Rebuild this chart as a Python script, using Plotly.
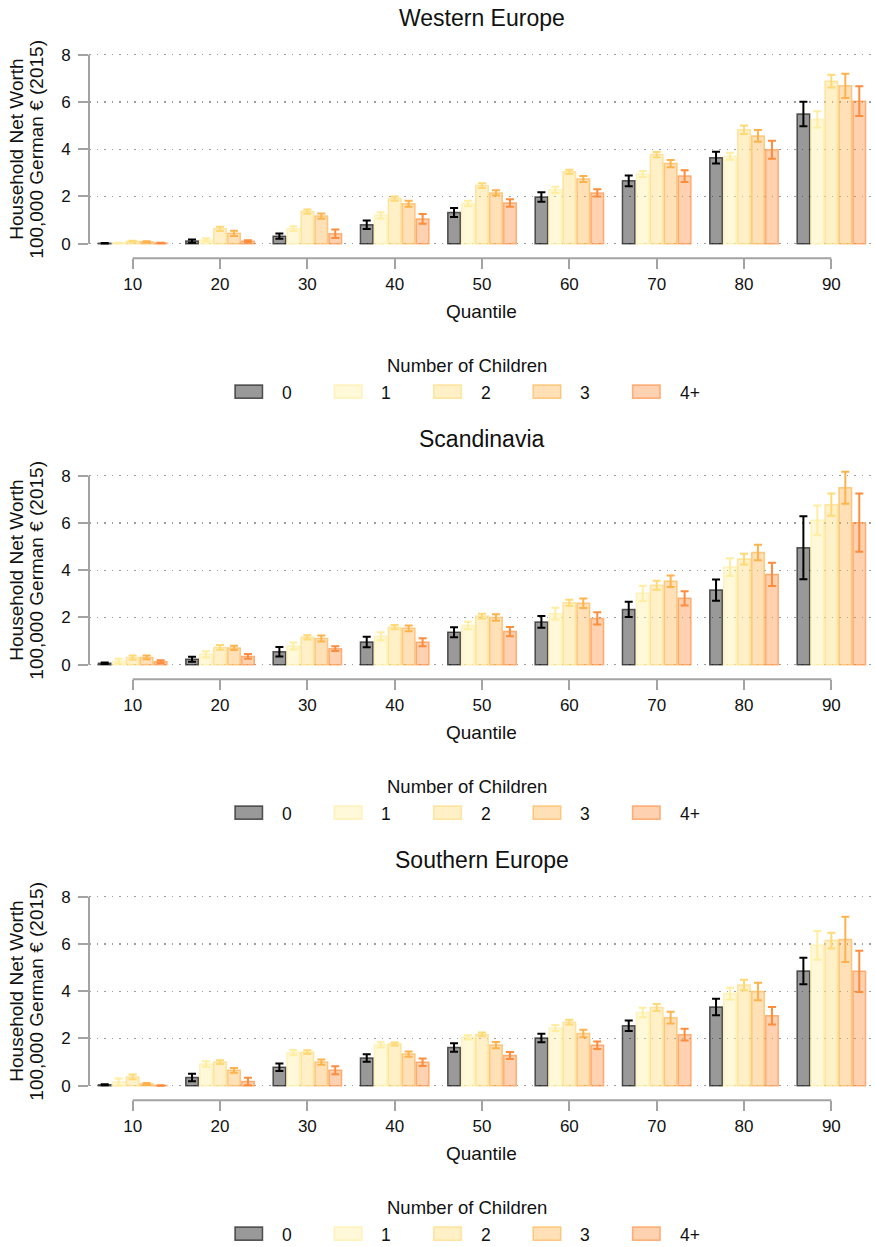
import plotly.graph_objects as go

# ---------------- data ----------------
quantiles = [10, 20, 30, 40, 50, 60, 70, 80, 90]
child_groups = ["0", "1", "2", "3", "4+"]
region_titles = ["Western Europe", "Scandinavia", "Southern Europe"]
y_ticks = [0, 2, 4, 6, 8]

# Western Europe: mean and half-width of error bar per number of children
we_mean_0 = [0.02, 0.11, 0.32, 0.80, 1.32, 1.98, 2.66, 3.64, 5.49]
we_mean_1 = [0.03, 0.16, 0.64, 1.20, 1.70, 2.28, 2.95, 3.70, 5.26]
we_mean_2 = [0.10, 0.63, 1.36, 1.91, 2.46, 3.04, 3.77, 4.82, 6.88]
we_mean_3 = [0.08, 0.44, 1.17, 1.69, 2.15, 2.74, 3.39, 4.56, 6.68]
we_mean_4 = [0.03, 0.10, 0.42, 1.05, 1.72, 2.15, 2.86, 3.98, 6.03]
we_err_0 = [0.01, 0.07, 0.11, 0.18, 0.19, 0.20, 0.23, 0.25, 0.52]
we_err_1 = [0.01, 0.07, 0.10, 0.13, 0.12, 0.13, 0.13, 0.15, 0.34]
we_err_2 = [0.02, 0.09, 0.09, 0.09, 0.10, 0.09, 0.11, 0.18, 0.27]
we_err_3 = [0.02, 0.11, 0.11, 0.13, 0.11, 0.13, 0.15, 0.25, 0.51]
we_err_4 = [0.01, 0.05, 0.18, 0.21, 0.16, 0.15, 0.25, 0.38, 0.63]

# Scandinavia
sc_mean_0 = [0.06, 0.23, 0.55, 0.96, 1.37, 1.81, 2.34, 3.16, 4.95]
sc_mean_1 = [0.15, 0.44, 0.79, 1.20, 1.66, 2.16, 3.02, 4.13, 6.11]
sc_mean_2 = [0.30, 0.73, 1.16, 1.59, 2.06, 2.62, 3.36, 4.47, 6.77]
sc_mean_3 = [0.31, 0.71, 1.11, 1.54, 2.00, 2.60, 3.53, 4.75, 7.49]
sc_mean_4 = [0.13, 0.35, 0.68, 0.95, 1.40, 1.96, 2.81, 3.82, 6.01]
sc_err_0 = [0.03, 0.11, 0.20, 0.22, 0.21, 0.25, 0.32, 0.45, 1.33]
sc_err_1 = [0.10, 0.13, 0.15, 0.17, 0.16, 0.25, 0.32, 0.38, 0.63]
sc_err_2 = [0.09, 0.10, 0.09, 0.09, 0.10, 0.13, 0.19, 0.23, 0.47]
sc_err_3 = [0.08, 0.09, 0.13, 0.12, 0.14, 0.20, 0.24, 0.33, 0.68]
sc_err_4 = [0.06, 0.10, 0.10, 0.17, 0.20, 0.26, 0.30, 0.49, 1.23]

# Southern Europe
so_mean_0 = [0.04, 0.35, 0.78, 1.17, 1.62, 2.02, 2.54, 3.33, 4.85]
so_mean_1 = [0.16, 0.92, 1.40, 1.73, 2.05, 2.44, 3.10, 3.90, 5.94]
so_mean_2 = [0.37, 1.00, 1.42, 1.76, 2.17, 2.69, 3.31, 4.26, 6.14]
so_mean_3 = [0.07, 0.65, 1.00, 1.34, 1.72, 2.21, 2.88, 3.99, 6.19]
so_mean_4 = [0.01, 0.18, 0.65, 0.99, 1.28, 1.71, 2.16, 2.96, 4.84]
so_err_0 = [0.02, 0.16, 0.16, 0.16, 0.18, 0.18, 0.22, 0.35, 0.56]
so_err_1 = [0.15, 0.12, 0.11, 0.11, 0.09, 0.13, 0.20, 0.25, 0.61]
so_err_2 = [0.10, 0.08, 0.08, 0.07, 0.08, 0.10, 0.15, 0.22, 0.33]
so_err_3 = [0.04, 0.10, 0.11, 0.11, 0.13, 0.16, 0.25, 0.37, 0.96]
so_err_4 = [0.01, 0.16, 0.17, 0.16, 0.15, 0.16, 0.25, 0.37, 0.87]

region_means = [
    [we_mean_0, we_mean_1, we_mean_2, we_mean_3, we_mean_4],
    [sc_mean_0, sc_mean_1, sc_mean_2, sc_mean_3, sc_mean_4],
    [so_mean_0, so_mean_1, so_mean_2, so_mean_3, so_mean_4],
]
region_errs = [
    [we_err_0, we_err_1, we_err_2, we_err_3, we_err_4],
    [sc_err_0, sc_err_1, sc_err_2, sc_err_3, sc_err_4],
    [so_err_0, so_err_1, so_err_2, so_err_3, so_err_4],
]

# ---------------- style ----------------
W, H = 875, 1247
FONT = "Liberation Sans, Arial, Helvetica, sans-serif"
TXT = "#111111"
AXC = "#a3a3a3"
base_rgb = [(0, 0, 0), (255, 237, 160), (254, 217, 118), (254, 178, 76), (253, 141, 60)]


def rgba(c, a):
    return "rgba(%d,%d,%d,%.2f)" % (c[0], c[1], c[2], a)


fills = [rgba(c, 0.4) for c in base_rgb]
edges = [rgba(base_rgb[0], 0.62)] + [rgba(c, 0.65) for c in base_rgb[1:]]
errc = [rgba(c, 1.0) for c in base_rgb]

PLOT_L, PLOT_R = 89, 875
PITCH = 421
ZERO_PX = 243.7
PX_PER_UNIT = 23.63
Y_MIN, Y_MAX = -0.62, 8.4


def px(v):
    return v / W


def py(v):
    return 1 - v / H


fig = go.Figure()
layout = dict(
    width=W, height=H,
    margin=dict(l=0, r=0, t=0, b=0),
    paper_bgcolor="white", plot_bgcolor="white",
    barmode="group", bargap=0.2, bargroupgap=0.1,
    showlegend=False, hovermode=False,
    font=dict(family=FONT, color=TXT, size=17),
)
shapes = []
annotations = []

for k in range(3):
    n = "" if k == 0 else str(k + 1)
    off = PITCH * k
    zero = ZERO_PX + off
    bottom = zero - Y_MIN * PX_PER_UNIT
    top = zero - Y_MAX * PX_PER_UNIT
    xa, ya = "x" + n, "y" + n

    for j, g in enumerate(child_groups):
        fig.add_trace(go.Bar(
            x=quantiles, y=region_means[k][j], name=g,
            xaxis=xa, yaxis=ya, offsetgroup=g,
            marker=dict(color=fills[j], line=dict(color=edges[j], width=1.5)),
            error_y=dict(type="data", array=region_errs[k][j], color=errc[j],
                         thickness=2, width=4),
            showlegend=False,
        ))

    layout["xaxis" + n] = dict(
        domain=[px(PLOT_L), px(PLOT_R)], range=[5, 95], anchor=ya,
        tickvals=quantiles, ticktext=[str(q) for q in quantiles],
        ticks="outside", ticklen=10, tickwidth=2, tickcolor=AXC,
        showline=False, showgrid=False, zeroline=False, fixedrange=True,
        tickfont=dict(size=17, color=TXT),
    )
    layout["yaxis" + n] = dict(
        domain=[py(bottom), py(top)], range=[Y_MIN, Y_MAX], anchor=xa,
        tickvals=y_ticks, ticktext=[str(t) for t in y_ticks],
        ticks="outside", ticklen=10, tickwidth=2, tickcolor=AXC,
        showline=False, showgrid=True, gridcolor="#9c9c9c", gridwidth=1.2,
        griddash="1.5px,6px", zeroline=False, fixedrange=True,
        tickfont=dict(size=17, color=TXT), ticklabelstandoff=4,
    )

    # axis lines (R style: span first to last tick)
    shapes.append(dict(type="line", xref=xa + " domain", yref=ya,
                       x0=0, x1=0, y0=y_ticks[0], y1=y_ticks[-1],
                       line=dict(color=AXC, width=2), layer="above"))
    shapes.append(dict(type="line", xref=xa, yref=ya + " domain",
                       x0=quantiles[0], x1=quantiles[-1], y0=0, y1=0,
                       line=dict(color=AXC, width=2), layer="above"))

    # title
    annotations.append(dict(text=region_titles[k], x=px((PLOT_L + PLOT_R) / 2),
                            y=py(17.7 + off), xref="paper", yref="paper",
                            xanchor="center", yanchor="middle", showarrow=False,
                            font=dict(size=23, color=TXT)))
    # y title (two lines)
    annotations.append(dict(text="Household Net Worth", x=px(16.5), y=4,
                            xref="paper", yref=ya, xanchor="center", yanchor="middle",
                            textangle=-90, showarrow=False, font=dict(size=19, color=TXT)))
    annotations.append(dict(text="100,000 German € (2015)", x=px(36.5), y=4,
                            xref="paper", yref=ya, xanchor="center", yanchor="middle",
                            textangle=-90, showarrow=False, font=dict(size=19, color=TXT)))
    # x title
    annotations.append(dict(text="Quantile", x=px((PLOT_L + PLOT_R) / 2), y=py(311 + off),
                            xref="paper", yref="paper", xanchor="center", yanchor="middle",
                            showarrow=False, font=dict(size=19, color=TXT)))
    # legend (R style)
    annotations.append(dict(text="Number of Children", x=px(467.3), y=py(365 + off),
                            xref="paper", yref="paper", xanchor="center", yanchor="middle",
                            showarrow=False, font=dict(size=18.5, color=TXT)))
    for j, g in enumerate(child_groups):
        x0 = 235 + 99.4 * j
        shapes.append(dict(type="rect", xref="paper", yref="paper",
                           x0=px(x0), x1=px(x0 + 27.5),
                           y0=py(385 + off), y1=py(398.3 + off),
                           fillcolor=fills[j], line=dict(color=edges[j], width=1.5)))
        annotations.append(dict(text=g, x=px(x0 + 27.5 + 17.5), y=py(392.5 + off),
                                xref="paper", yref="paper", xanchor="left", yanchor="middle",
                                showarrow=False, font=dict(size=17.5, color=TXT)))

layout["shapes"] = shapes
layout["annotations"] = annotations
fig.update_layout(**layout)
fig.write_html("out.html", config={"displayModeBar": False, "staticPlot": True},
               post_script="document.body.style.margin='0px';")
